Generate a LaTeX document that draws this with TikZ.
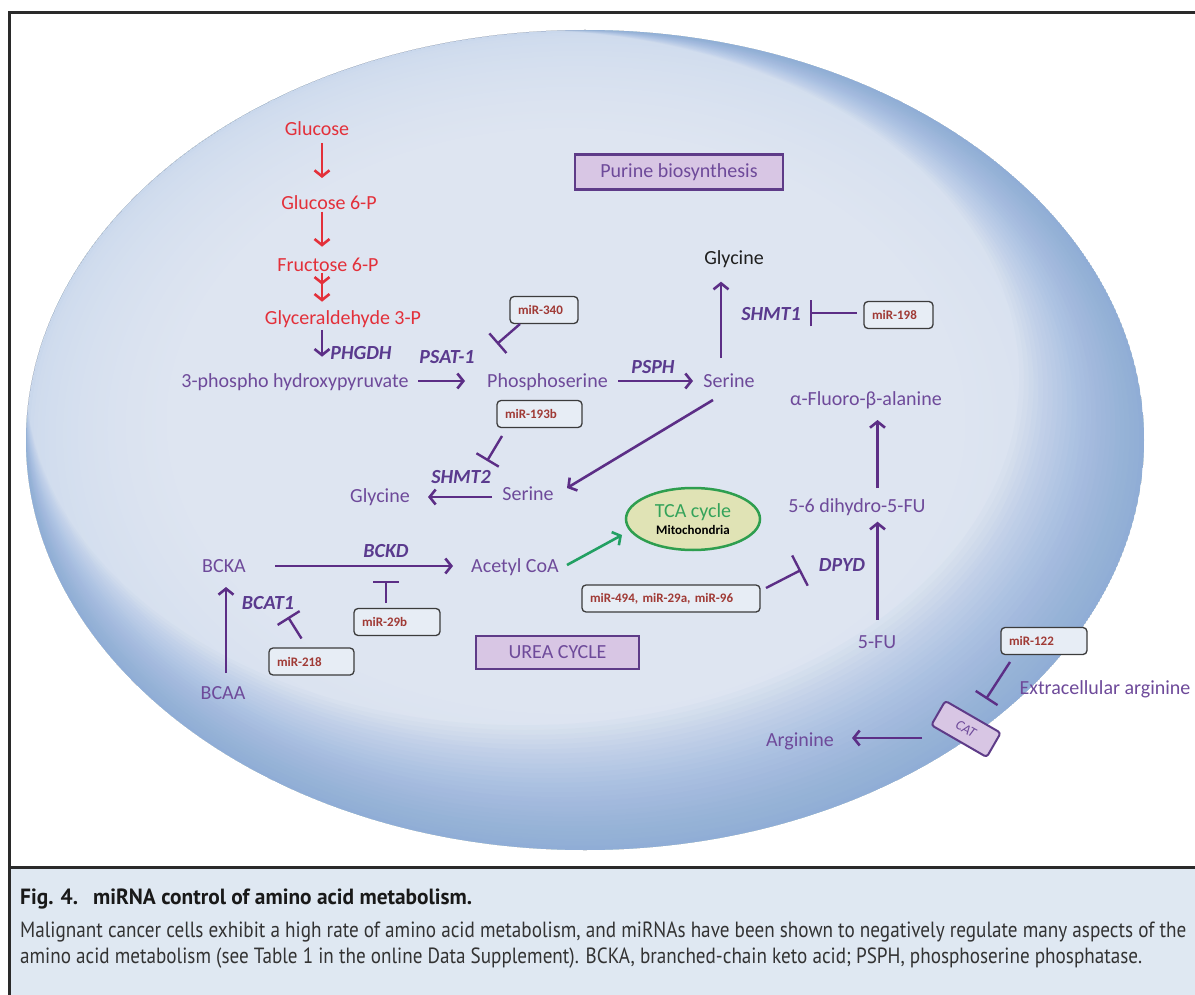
\documentclass[tikz,border=0pt]{standalone}
\usepackage{fontspec}
\setmainfont{Carlito}
\newfontfamily\capfont{PT Sans}
\usepackage{graphicx}
\usetikzlibrary{arrows.meta,shapes.geometric}
\definecolor{cellin}{HTML}{DEE5F1}
\definecolor{cellrim}{HTML}{CAD8EC}
\definecolor{cellout}{HTML}{7FA3D6}
\definecolor{redc}{HTML}{E3303A}
\definecolor{txtp}{HTML}{6E4A9A}
\definecolor{arrp}{HTML}{5C2E86}
\definecolor{enzp}{HTML}{5A3A8E}
\definecolor{mirtxt}{HTML}{A03A35}
\definecolor{mirfill}{HTML}{E7EDF5}
\definecolor{mirline}{HTML}{3C3C3C}
\definecolor{lav}{HTML}{D8C6E4}
\definecolor{lavline}{HTML}{5E3B88}
\definecolor{tcafill}{HTML}{E0E3B5}
\definecolor{tcaline}{HTML}{2E9E4F}
\definecolor{tcatxt}{HTML}{34A35A}
\definecolor{grnarr}{HTML}{22A063}
\definecolor{framec}{HTML}{2A2A2A}
\definecolor{capbg}{HTML}{DFE8F2}
\definecolor{captxt}{HTML}{333333}
\begin{document}
\begin{tikzpicture}[x=1pt,y=-1pt,
  txt/.style={font=\fontsize{20}{24}\selectfont, text=txtp, inner sep=1pt, text height=13pt, text depth=0pt},
  redtxt/.style={txt, text=redc},
  enz/.style={txt, font=\fontsize{20}{24}\selectfont\bfseries\itshape, text=enzp},
  mirbox/.style={draw=mirline, line width=1.3pt, rounded corners=4pt, fill=mirfill, font=\fontsize{13}{14}\selectfont\bfseries, text=mirtxt, inner xsep=8pt, inner ysep=0pt, minimum height=27pt, align=left},
  pbox/.style={draw=lavline, line width=2.2pt, fill=lav, text=txtp, font=\fontsize{20}{24}\selectfont, inner sep=0pt},
  arr/.style={draw=arrp, line width=2.6pt, -{Straight Barb[length=6pt,width=15pt]}},
  redarr/.style={draw=redc, line width=2.6pt, -{Straight Barb[length=6pt,width=15pt]}},
  redarrtwo/.style={draw=redc, line width=2.6pt, -{Straight Barb[length=6pt,width=15pt,sep=8pt]Straight Barb[length=6pt,width=15pt]}},
  grn/.style={draw=grnarr, line width=2.6pt, -{Straight Barb[length=6pt,width=15pt]}},
  inh/.style={draw=arrp, line width=2.4pt, -{Bar[width=26pt]}},
  capline/.style={anchor=west, inner sep=0pt, text=captxt, font=\capfont\fontsize{22}{26}\selectfont}
]
\path[use as bounding box] (0,0) rectangle (1195,995);
\fill[white] (0,0) rectangle (1195,995);
\fill[capbg] (9,867) rectangle (1195,995);
% cell: light base gradient
\foreach \i in {0,...,40}{
  \pgfmathsetmacro\t{\i/40}
  \pgfmathsetmacro\s{1-0.3*\t}
  \pgfmathsetmacro\p{100*sqrt(\t)}
  \fill[cellin!\p!cellrim] ({585-20*\t},{440-20*\t}) ellipse [x radius={559*\s}, y radius={410*\s}];
}
% darker rim on the lower and right sides
\begin{scope}
  \clip (585,440) ellipse [x radius=559, y radius=410];
  \foreach \k in {1,...,26}{
    \fill[cellout, opacity=0.044, even odd rule] (585,440) ellipse [x radius=559, y radius=410]
      ({585-2.4*\k},{440-2.4*\k}) ellipse [x radius={559-2.4*\k}, y radius={410-2.4*\k}];
  }
\end{scope}
\draw[framec, line width=3pt] (1195,13) -- (9,13) -- (9,995);
\draw[framec, line width=3pt] (9,867) -- (1195,867);

% boxes
\node[pbox, minimum width=208pt, minimum height=35pt] (purine) at (679,172) {Purine biosynthesis};
\node[pbox, minimum width=163pt, minimum height=33pt] (urea) at (557.5,652.5) {UREA CYCLE};
\node[draw=tcaline, line width=2.5pt, fill=tcafill, ellipse, minimum width=134pt, minimum height=62pt, inner sep=0pt, align=center] (tca) at (693,519)
  {{\color{tcatxt}\fontsize{20}{20}\selectfont TCA cycle}\\[3pt]{\color{black}\bfseries\fontsize{13}{13}\selectfont Mitochondria}};
\node[draw=lavline, line width=2pt, fill=lav, rounded corners=3pt, rotate=-30, minimum width=64pt, minimum height=28pt, inner sep=0pt, font=\fontsize{14}{14}\selectfont\itshape, text=txtp] (cat) at (966,729) {CAT};

% metabolites
\node[redtxt] (glu) at (317,129) {Glucose};
\node[redtxt] (g6p) at (329,203) {Glucose 6-P};
\node[redtxt] (f6p) at (328,265) {Fructose 6-P};
\node[redtxt] (gap) at (343,318) {Glyceraldehyde 3-P};
\node[txt] (php) at (295,381) {3-phospho hydroxypyruvate};
\node[txt] (pser) at (547.5,381) {Phosphoserine};
\node[txt] (ser) at (729,381) {Serine};
\node[txt, text=black!88] (gly) at (734,258) {Glycine};
\node[txt] (fab) at (866,399) {α-Fluoro-β-alanine};
\node[txt] (ser2) at (528,494) {Serine};
\node[txt] (gly2) at (380,496) {Glycine};
\node[txt] (bcka) at (224,566) {BCKA};
\node[txt] (acoa) at (515,566) {Acetyl CoA};
\node[txt] (bcaa) at (223,693) {BCAA};
\node[txt] (dhfu) at (857,506) {5-6 dihydro-5-FU};
\node[txt] (fu) at (877,642) {5-FU};
\node[txt] (arg) at (800,740) {Arginine};
\node[txt] (extarg) at (1105,688) {Extracellular arginine};

% enzymes
\node[enz] (phgdh) at (361,353) {PHGDH};
\node[enz] (psat) at (447,357) {PSAT-1};
\node[enz] (psph) at (653,367) {PSPH};
\node[enz] (shmt1) at (771,314) {SHMT1};
\node[enz] (shmt2) at (461,477) {SHMT2};
\node[enz] (bckd) at (386,551) {BCKD};
\node[enz] (bcat) at (268,603) {BCAT1};
\node[enz] (dpyd) at (842,565) {DPYD};

% miRNAs
\node[mirbox, text width=52pt] (m340) at (544,310) {miR-340};
\node[mirbox, text width=69pt] (m193) at (539.5,414) {miR-193b};
\node[mirbox, text width=53pt] (m198) at (898.5,315) {miR-198};
\node[mirbox, text width=70pt] (m29b) at (397,622) {miR-29b};
\node[mirbox, text width=69pt] (m218) at (311.5,661.5) {miR-218};
\node[mirbox, text width=162pt] (m494) at (671,598.5) {miR-494, miR-29a, miR-96};
\node[mirbox, text width=70pt] (m122) at (1044,641) {miR-122};

% pathway arrows
\draw[redarr] ([shift={(5,14)}]glu.center) -- ([shift={(-7,-25)}]g6p.center);
\draw[redarr] ([shift={(-7,8.7)}]g6p.center) -- ([shift={(-6,-18.3)}]f6p.center);
\draw[redarrtwo] ([shift={(-6,8)}]f6p.center) -- ([shift={(-21,-16.3)}]gap.center);
\draw[arr] ([shift={(-21,12)}]gap.center) -- ([shift={(27,-24.3)}]php.center);
\draw[arr] ([shift={(123,0)}]php.center) -- ([shift={(-82.5,0)}]pser.center);
\draw[arr] ([shift={(70.5,0)}]pser.center) -- ([shift={(-36,0)}]ser.center);
\draw[arr] ([shift={(-8,-23)}]ser.center) -- ([shift={(-13,23.7)}]gly.center);
\draw[arr] ([shift={(-16,19)}]ser.center) -- ([shift={(39,-6)}]ser2.center);
\draw[arr] ([shift={(-36,3)}]ser2.center) -- ([shift={(48,1)}]gly2.center);
\draw[arr] ([shift={(51,0)}]bcka.center) -- ([shift={(-62,0)}]acoa.center);
\draw[grn] ([shift={(52,-1)}]acoa.center) -- ([shift={(-71,16)}]tca.center);
\draw[arr] ([shift={(3,-20)}]bcaa.center) -- ([shift={(2,21)}]bcka.center);
\draw[arr] ([shift={(0.5,-22)}]fu.center) -- ([shift={(20.5,15.7)}]dhfu.center);
\draw[arr] ([shift={(20.5,-18)}]dhfu.center) -- ([shift={(11.5,21)}]fab.center);
\draw[arr] ([shift={(-44,9)}]cat.center) -- ([shift={(52,-2)}]arg.center);

% inhibitions
\draw[inh] ([shift={(-24,14)}]m340.center) -- ([shift={(-50.5,-37)}]pser.center);
\draw[inh] ([shift={(-37.5,22)}]m193.center) -- ([shift={(26,-16)}]shmt2.center);
\draw[inh] ([shift={(-41.8,-1.7)}]m198.center) -- ([shift={(39,-0.7)}]shmt1.center);
\draw[inh] ([shift={(-11,-19)}]m29b.center) -- ([shift={(0,30)}]bckd.center);
\draw[inh] ([shift={(-10,-23)}]m218.center) -- ([shift={(20,14)}]bcat.center);
\draw[inh, -{Bar[width=34pt]}] ([shift={(95,-10.5)}]m494.center) -- ([shift={(-41,5)}]dpyd.center);
\draw[inh] ([shift={(-34,21)}]m122.center) -- ([shift={(20,-30)}]cat.center);

% caption
\node[capline, text=black!90] (captitle) at (20,899) {\bfseries\resizebox{452pt}{\height}{Fig. 4.\hspace{0.7em}miRNA control of amino acid metabolism.}};
\node[capline] (capa) at (20,932) {\resizebox{1166pt}{\height}{Malignant cancer cells exhibit a high rate of amino acid metabolism, and miRNAs have been shown to negatively regulate many aspects of the}};
\node[capline] (capb) at (20,958) {\resizebox{1122pt}{\height}{amino acid metabolism (see Table 1 in the online Data Supplement). BCKA, branched-chain keto acid; PSPH, phosphoserine phosphatase.}};
\end{tikzpicture}
\end{document}
